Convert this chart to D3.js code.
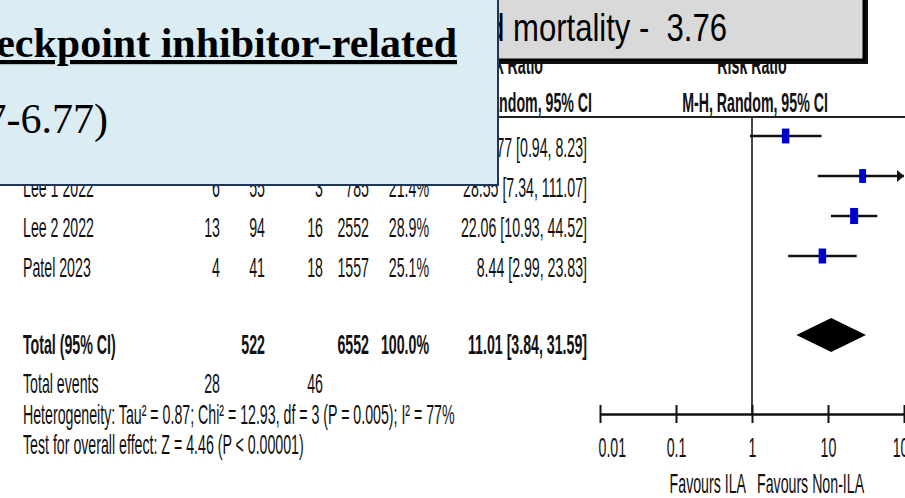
<!DOCTYPE html>
<html>
<head>
<meta charset="utf-8">
<script src="https://cdn.jsdelivr.net/npm/d3@7"></script>
<style>
  body { margin: 0; background: #fff; }
  svg { display: block; }
  text { white-space: pre; }
</style>
</head>
<body>
<svg id="chart" width="905" height="498"></svg>
<script>
// ---- study data (risk of mortality, ILA vs non-ILA) ----
const studies   = ["Study 2021", "Lee 1 2022", "Lee 2 2022", "Patel 2023"];
const ilaEvents = [5, 6, 13, 4];
const ilaTotal  = [332, 55, 94, 41];
const nonEvents = [9, 3, 16, 18];
const nonTotal  = [1658, 785, 2552, 1557];
const weights   = [24.6, 21.4, 28.9, 25.1];
const riskRatio = [2.77, 28.55, 22.06, 8.44];
const ciLower   = [0.94, 7.34, 10.93, 2.99];
const ciUpper   = [8.23, 111.07, 44.52, 23.83];

const pooledRR = 11.01, pooledLo = 3.84, pooledHi = 31.59;

const tickValues = [0.01, 0.1, 1, 10, 100];
const tickLabels = ["0.01", "0.1", "1", "10", "100"];

const heterogeneityText = "Heterogeneity: Tau\u00b2 = 0.87; Chi\u00b2 = 12.93, df = 3 (P = 0.005); I\u00b2 = 77%";
const overallText = "Test for overall effect: Z = 4.46 (P < 0.00001)";

// ---- setup ----
const svg = d3.select("#chart");
const SANS = "'Liberation Sans', Arial, sans-serif";
const SERIF = "'Liberation Serif', 'Times New Roman', serif";

// width of a string at a given font, used to derive the horizontal squeeze
function measure(s, size, family, weight) {
  const t = svg.append("text").attr("font-size", size).attr("font-family", family)
    .attr("font-weight", weight || "normal").text(s);
  const w = t.node().getComputedTextLength();
  t.remove();
  return w;
}

const FS = 27;                                   // table text size
const SX = 432 / measure(heterogeneityText, FS, SANS);   // condensed look

function txt(g, x, y, s, o = {}) {
  return g.append("text")
    .attr("transform", `translate(${x},${y}) scale(${o.sx ?? SX},1)`)
    .attr("text-anchor", o.anchor || "start")
    .attr("font-size", o.size || FS)
    .attr("font-weight", o.weight || "normal")
    .attr("font-family", o.family || SANS)
    .attr("fill", o.fill || "#111")
    .text(s);
}

// ---- scales ----
const x = d3.scaleLog().domain([0.01, 100]).range([600, 904]);
const rowY = d3.scalePoint().domain(studies).range([157, 277]);
const markOffset = -21;                          // marks sit above the text baseline
const boxH = d3.scaleSqrt().domain([0, 30]).range([0, 16.4]);

const plot = svg.append("g");

// ---- headers ----
txt(plot, 543, 74, "Risk Ratio", { anchor: "end", weight: "bold" });
txt(plot, 592, 112, "M-H, Random, 95% CI", { anchor: "end", weight: "bold" });
txt(plot, x(1), 74, "Risk Ratio", { anchor: "middle", weight: "bold" });
txt(plot, x(1) + 3, 112, "M-H, Random, 95% CI", { anchor: "middle", weight: "bold" });
plot.append("line").attr("x1", 0).attr("x2", 905).attr("y1", 117).attr("y2", 117)
  .attr("stroke", "#222").attr("stroke-width", 2);

// ---- table columns ----
const col = { ev1: 220, n1: 265, ev2: 323, n2: 369, w: 429, ci: 587 };
const fmt2 = d3.format(".2f");

studies.forEach((s, i) => {
  const y = rowY(s);
  txt(plot, 23, y, s);
  txt(plot, col.ev1, y, ilaEvents[i], { anchor: "end" });
  txt(plot, col.n1, y, ilaTotal[i], { anchor: "end" });
  txt(plot, col.ev2, y, nonEvents[i], { anchor: "end" });
  txt(plot, col.n2, y, nonTotal[i], { anchor: "end" });
  txt(plot, col.w, y, weights[i].toFixed(1) + "%", { anchor: "end" });
  txt(plot, col.ci, y, `${fmt2(riskRatio[i])} [${fmt2(ciLower[i])}, ${fmt2(ciUpper[i])}]`, { anchor: "end" });
});

const totalY = 354;
txt(plot, 23, totalY, "Total (95% CI)", { weight: "bold" });
txt(plot, col.n1, totalY, d3.sum(ilaTotal), { anchor: "end", weight: "bold" });
txt(plot, col.n2, totalY, d3.sum(nonTotal), { anchor: "end", weight: "bold" });
txt(plot, col.w, totalY, d3.sum(weights).toFixed(1) + "%", { anchor: "end", weight: "bold" });
txt(plot, col.ci, totalY, `${fmt2(pooledRR)} [${fmt2(pooledLo)}, ${fmt2(pooledHi)}]`, { anchor: "end", weight: "bold" });

txt(plot, 23, 393, "Total events");
txt(plot, col.ev1, 393, d3.sum(ilaEvents), { anchor: "end" });
txt(plot, col.ev2, 393, d3.sum(nonEvents), { anchor: "end" });
txt(plot, 23, 424, heterogeneityText);
txt(plot, 23, 454, overallText);

// ---- forest plot ----
plot.append("line").attr("x1", x(1)).attr("x2", x(1)).attr("y1", 117).attr("y2", 414)
  .attr("stroke", "#444").attr("stroke-width", 2);

const [dMin, dMax] = x.domain();
studies.forEach((s, i) => {
  const y = rowY(s) + markOffset;
  const hi = Math.min(ciUpper[i], dMax);
  plot.append("line").attr("x1", x(Math.max(ciLower[i], dMin))).attr("x2", x(hi))
    .attr("y1", y).attr("y2", y).attr("stroke", "#111").attr("stroke-width", 2.5);
  if (ciUpper[i] > dMax) {
    const ax = x(dMax);
    plot.append("path").attr("d", `M${ax - 7},${y - 6}L${ax},${y}L${ax - 7},${y + 6}Z`).attr("fill", "#111");
  }
  const h = boxH(weights[i]);
  plot.append("rect").attr("x", x(riskRatio[i]) - h * 0.25).attr("y", y - h / 2)
    .attr("width", h * 0.5).attr("height", h).attr("fill", "#0000cc");
});

const dy = totalY - 19;
plot.append("path")
  .attr("d", `M${x(pooledLo)},${dy}L${x(pooledRR)},${dy - 17}L${x(pooledHi)},${dy}L${x(pooledRR)},${dy + 17}Z`)
  .attr("fill", "#000");

// ---- axis ----
const axisG = plot.append("g").attr("transform", "translate(0,414)")
  .call(d3.axisBottom(x).tickValues(tickValues).tickFormat((d, i) => tickLabels[i]).tickSizeOuter(0));
axisG.select(".domain").attr("stroke", "#111").attr("stroke-width", 2.5);
axisG.selectAll(".tick line").attr("y1", -9).attr("y2", 9).attr("stroke", "#111").attr("stroke-width", 2);
axisG.selectAll(".tick text")
  .attr("font-size", FS).attr("font-family", SANS).attr("fill", "#111")
  .attr("y", 43).attr("dy", 0)
  .attr("transform", `scale(${SX},1)`)
  .attr("text-anchor", (d, i) => i === 0 ? "start" : "middle")
  .attr("x", (d, i) => i === 0 ? -2 / SX : 0);

txt(plot, x(1) - 6, 493, "Favours ILA", { anchor: "end" });
txt(plot, x(1) + 5, 493, "Favours Non-ILA");

// ---- callouts ----
const grey = svg.append("g");
grey.append("rect").attr("x", 400).attr("y", -10).attr("width", 868 - 400).attr("height", 74)
  .attr("fill", "#111");
grey.append("rect").attr("x", 398).attr("y", -10).attr("width", 864 - 398).attr("height", 70)
  .attr("fill", "#d9d9d9").attr("stroke", "#000").attr("stroke-width", 3);
const gSize = 38;
const gW = measure("mortality -  3.76", gSize, SANS);
const gSX = 214 / gW;
grey.append("text")
  .attr("transform", `translate(727,41) scale(${gSX},1)`)
  .attr("text-anchor", "end").attr("font-size", gSize).attr("font-family", SANS)
  .attr("fill", "#000")
  .text("related mortality -  3.76");

const blue = svg.append("g");
blue.append("rect").attr("x", -10).attr("y", -10).attr("width", 508).attr("height", 195)
  .attr("fill", "#dbecf3").attr("stroke", "#1f3656").attr("stroke-width", 2);
blue.append("text")
  .attr("x", 457).attr("y", 57).attr("text-anchor", "end")
  .attr("font-size", 42).attr("font-weight", "bold").attr("font-family", SERIF)
  .attr("text-decoration", "underline").attr("fill", "#000")
  .text("Immune checkpoint inhibitor-related");
blue.append("text")
  .attr("x", 108).attr("y", 133).attr("text-anchor", "end")
  .attr("font-size", 42).attr("font-family", SERIF).attr("fill", "#000")
  .text("7-6.77)");
</script>
</body>
</html>
